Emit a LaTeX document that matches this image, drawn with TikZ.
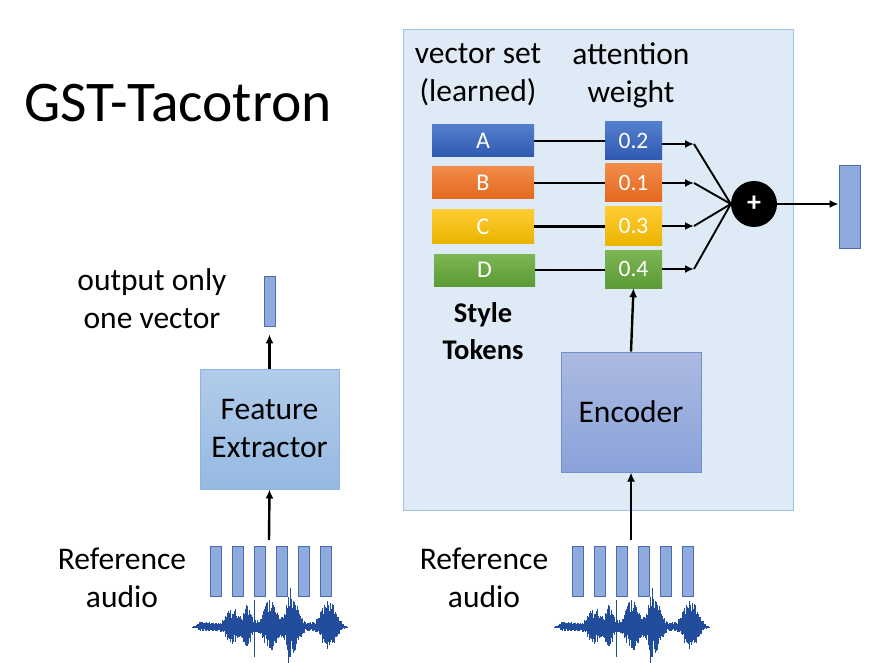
\documentclass[tikz,border=0pt]{standalone}
\usepackage{fontspec}
\setmainfont{Carlito}
\usetikzlibrary{arrows.meta,calc}
\definecolor{panel}{HTML}{DEEBF7}
\definecolor{panelb}{HTML}{9DC3E6}
\definecolor{wave}{HTML}{224C9C}
\definecolor{vecfill}{HTML}{8FAADC}
\definecolor{vecdraw}{HTML}{4A6BB0}
\tikzset{
  x=1pt,y=-1pt,
  txt/.style={font=\fontsize{31.5}{38}\selectfont, align=center, inner sep=0pt},
  bar/.style={minimum width=102pt, minimum height=32pt, inner sep=0pt, text=white, font=\fontsize{24}{26}\selectfont},
  wbox/.style={minimum width=57pt, minimum height=38pt, inner sep=0pt, text=white, font=\fontsize{23.5}{24}\selectfont},
  arr/.style={line width=2.4pt, -{Latex[length=9pt,width=8pt]}},
  ln/.style={line width=2.5pt},
  smallvec/.style={fill=vecfill, draw=vecdraw, line width=0.8pt, inner sep=0pt},
  audiobar/.style={smallvec, minimum width=11pt, minimum height=50pt},
  blueshade/.style={shading=axis, top color={rgb,255:red,84;green,126;blue,205}, bottom color={rgb,255:red,46;green,89;blue,176}},
  orangeshade/.style={shading=axis, top color={rgb,255:red,243;green,139;blue,74}, bottom color={rgb,255:red,227;green,104;blue,30}},
  goldshade/.style={shading=axis, top color={rgb,255:red,255;green,204;blue,51}, bottom color={rgb,255:red,235;green,180;blue,0}},
  greenshade/.style={shading=axis, top color={rgb,255:red,125;green,182;blue,84}, bottom color={rgb,255:red,92;green,155;blue,54}},
}
\newcommand{\mywave}[2]{%
  \begin{scope}[shift={(#1,#2)}]
    \pgfmathsetseed{7}
    \foreach \t in {0,0.5,...,155}{
      \pgfmathsetmacro{\env}{5*min(1,\t/8)*min(1,(155-\t)/8)+17*exp(max(-9,-((\t-40)/7)^2))+18*exp(max(-9,-((\t-55)/5)^2))+24*exp(max(-9,-((\t-78)/8)^2))+38*exp(max(-9,-((\t-100)/7)^2))+26*exp(max(-9,-((\t-136)/8)^2))}
      \pgfmathsetmacro{\up}{\env*(0.35+0.65*rnd)}
      \pgfmathsetmacro{\dn}{0.85*\env*(0.35+0.65*rnd)}
      \draw[wave, line width=0.9pt] (\t,-\up) -- (\t,\dn);
    }
    \draw[wave, line width=0.8pt] (62,-27) -- (62,30);
    \draw[wave, line width=0.8pt] (96,-30) -- (96,37);
    \draw[wave, line width=1pt] (0,0) -- (155,0);
  \end{scope}}
\begin{document}
\begin{tikzpicture}
\useasboundingbox (0,0) rectangle (870,663);
\fill[white] (0,0) rectangle (870,663);
% title
\node[txt, font=\fontsize{57.5}{60}\selectfont] (title) at (178,103) {GST-Tacotron};
% panel
\draw[fill=panel, draw=panelb, line width=1pt] (403,30) rectangle (793,510);
\node[txt] (vslab) at (478,75) {vector set\\(learned)};
\node[txt] (awlab) at (631,75) {attention\\weight};
% vectors
\node[bar, blueshade] (vA) at (483,141) {A};
\node[bar, orangeshade] (vB) at (483,183) {B};
\node[bar, minimum height=33pt, goldshade] (vC) at (483,226.5) {C};
\node[bar, minimum width=101pt, greenshade] (vD) at (484.5,270) {D};
% weights
\node[wbox, blueshade] (wA) at (633.5,141) {0.2};
\node[wbox, orangeshade] (wB) at (633.5,182.5) {0.1};
\node[wbox, goldshade] (wC) at (633.5,226) {0.3};
\node[wbox, greenshade] (wD) at (633.5,269) {0.4};
\draw[ln] (vA.east) -- (vA.east -| wA.west);
\draw[ln] (vB.east) -- (vB.east -| wB.west);
\draw[ln] (vC.east) -- (vC.east -| wC.west);
\draw[ln] (vD.east) -- (vD.east -| wD.west);
% sum
\node[circle, fill=black, minimum size=46pt, inner sep=0pt, text=white, font=\bfseries\fontsize{28}{28}\selectfont] (sum) at (754,204) {+};
\coordinate (tA) at (694,144);
\coordinate (tB) at (694,183);
\coordinate (tC) at (694,226);
\coordinate (tD) at (694,269);
\draw[arr] (wA.east |- tA) -- (tA);
\draw[arr] (wB.east |- tB) -- (tB);
\draw[arr] (wC.east |- tC) -- (tC);
\draw[arr] (wD.east |- tD) -- (tD);
\draw[line width=1.9pt] (tA) -- (sum.west);
\draw[line width=1.9pt] (tB) -- (sum.west);
\draw[line width=1.9pt] (tC) -- (sum.west);
\draw[line width=1.9pt] (tD) -- (sum.west);
\node[smallvec, minimum width=21pt, minimum height=83pt] (outv) at (849.5,206.5) {};
\draw[arr] (sum.east) -- (sum.east -| outv.west);
\node[txt, font=\bfseries\fontsize{28.5}{37}\selectfont] (st) at (483,331) {Style\\Tokens};
% encoder
\node[draw={rgb,255:red,114;green,144;blue,206}, line width=1pt, shading=axis, top color={rgb,255:red,172;green,186;blue,225}, bottom color={rgb,255:red,138;green,162;blue,218}, minimum width=140pt, minimum height=120pt, txt] (enc) at (631,412) {Encoder};
\draw[arr] (enc.north) -- (wD.south);
% feature extractor
\node[draw={rgb,255:red,143;green,180;blue,227}, line width=1pt, shading=axis, top color={rgb,255:red,178;green,204;blue,234}, bottom color={rgb,255:red,150;green,185;blue,226}, minimum width=139pt, minimum height=120pt, txt] (fe) at (269.5,429) {Feature\\Extractor};
\node[smallvec, minimum width=11pt, minimum height=50pt] (sv) at (269.5,301) {};
\draw[arr] (fe.north) -- ($(sv.south)+(0,8)$);
\node[txt] (ovl) at (152,299) {output only\\one vector};
% left audio
\node[txt] (ref1) at (122,578) {Reference\\audio};
\foreach \i in {0,...,5}{\node[audiobar] (la\i) at (216+22*\i,571.5) {};}
\coordinate (la) at (269,540);
\draw[arr] (la) -- (fe.south);
\mywave{192}{627}
% right audio
\node[txt] (ref2) at (484,578) {Reference\\audio};
\foreach \i in {0,...,5}{\node[audiobar] (ra\i) at (578+22*\i,571.5) {};}
\coordinate (ra) at (631,540);
\draw[arr] (ra) -- (enc.south);
\mywave{554}{627}
\end{tikzpicture}
\end{document}
